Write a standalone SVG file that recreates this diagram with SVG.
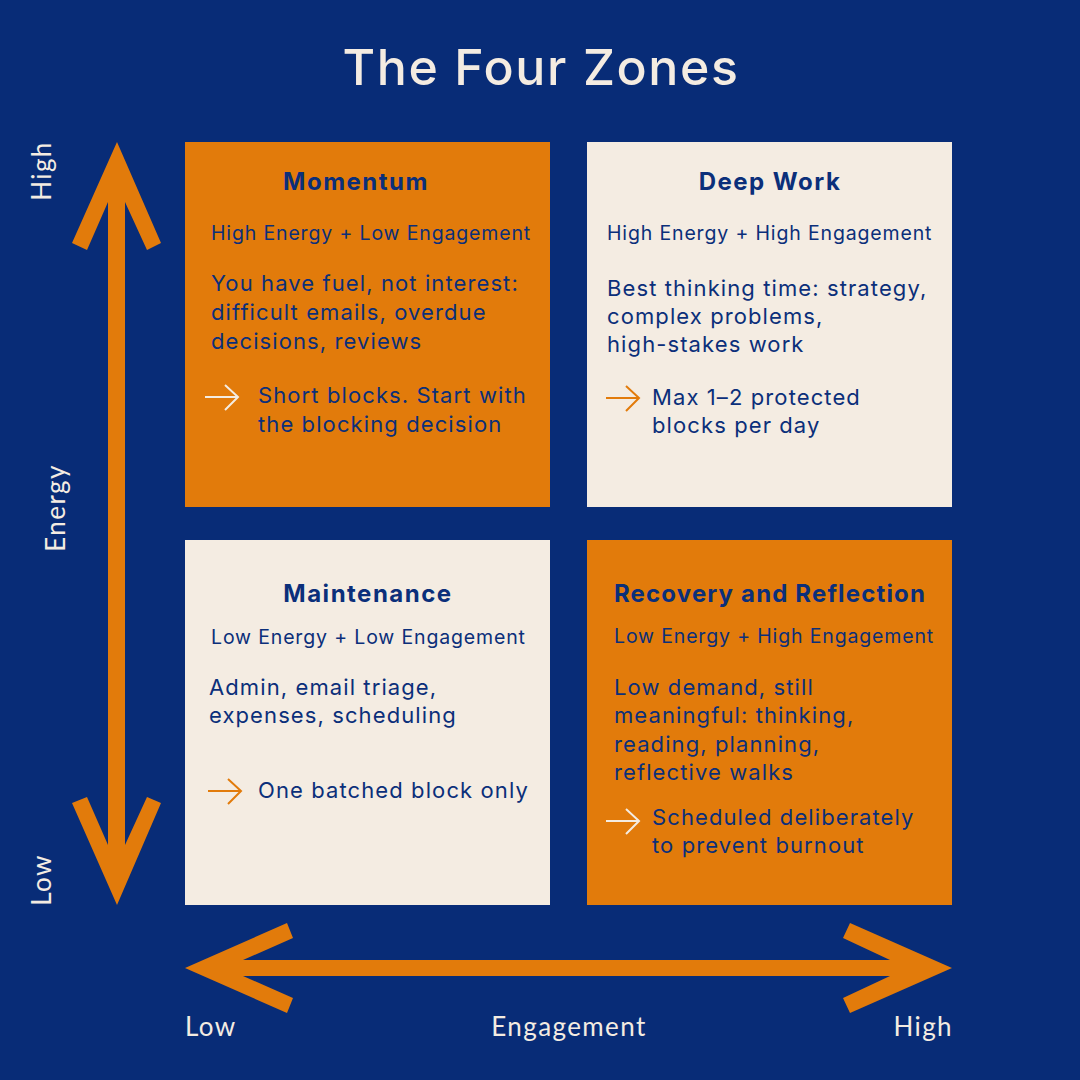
<svg xmlns="http://www.w3.org/2000/svg" width="1080" height="1080" viewBox="0 0 1080 1080">
<style>
.bg{fill:#082C77}
.orange{fill:#E27B0B}
.cream{fill:#F4ECE2}
.title{font-family:Inter,"Liberation Sans",sans-serif;font-size:50px;font-weight:500;letter-spacing:1.6px;fill:#F4ECE2}
.axis{font-family:Lato,"Liberation Sans",sans-serif;font-size:26px;letter-spacing:1.4px;fill:#F4ECE2}
.head{font-family:Inter,"Liberation Sans",sans-serif;font-size:24px;font-weight:700;letter-spacing:1.5px;fill:#0B2F7A}
.sub{font-family:Inter,"Liberation Sans",sans-serif;font-size:19.5px;letter-spacing:0.85px;fill:#0B2F7A}
.body{font-family:Inter,"Liberation Sans",sans-serif;font-size:22px;letter-spacing:1.1px;fill:#0B2F7A}
.arr-c{fill:none;stroke:#F4ECE2;stroke-width:2}
.arr-o{fill:none;stroke:#E27B0B;stroke-width:2}
</style>
<rect class="bg" x="0" y="0" width="1080" height="1080"/>
<text class="title" x="541" y="85" text-anchor="middle">The Four Zones</text>

<g id="connectors">
<polygon class="orange" points="117,142 161,243 147,250 125,202 125,845 147,797 161,803 117,905 72,803 87,797 108,845 108,202 87,250 72,243"/>
<polygon class="orange" points="185,968 287,923 293,938 243,960 890,960 843,938 850,923 952,968 850,1013 843,998 890,976 243,976 293,998 287,1013"/>
</g>

<g id="axis-labels">
<text class="axis" transform="translate(51,171) rotate(-90)" text-anchor="middle">High</text>
<text class="axis" transform="translate(65,508) rotate(-90)" text-anchor="middle">Energy</text>
<text class="axis" transform="translate(51,880) rotate(-90)" text-anchor="middle">Low</text>
<text class="axis" x="185" y="1036">Low</text>
<text class="axis" x="569" y="1036" text-anchor="middle">Engagement</text>
<text class="axis" x="953" y="1036" text-anchor="end">High</text>
</g>

<g id="momentum">
<rect class="orange" x="185" y="142" width="365" height="365"/>
<text class="head" x="356" y="190" text-anchor="middle">Momentum</text>
<text class="sub" x="211" y="240">High Energy + Low Engagement</text>
<text class="body" x="211" y="291">You have fuel, not interest:</text>
<text class="body" x="211" y="320">difficult emails, overdue</text>
<text class="body" x="211" y="349">decisions, reviews</text>
<path class="arr-c" d="M205,397 H238 M225,385 L238,397 L225,410"/>
<text class="body" x="258" y="403">Short blocks. Start with</text>
<text class="body" x="258" y="432">the blocking decision</text>
</g>

<g id="deep-work">
<rect class="cream" x="587" y="142" width="365" height="365"/>
<text class="head" x="770" y="190" text-anchor="middle">Deep Work</text>
<text class="sub" x="607" y="240">High Energy + High Engagement</text>
<text class="body" x="607" y="296">Best thinking time: strategy,</text>
<text class="body" x="607" y="324">complex problems,</text>
<text class="body" x="607" y="352">high-stakes work</text>
<path class="arr-o" d="M606,398 H639 M626,386 L639,398 L626,411"/>
<text class="body" x="652" y="405">Max 1–2 protected</text>
<text class="body" x="652" y="433">blocks per day</text>
</g>

<g id="maintenance">
<rect class="cream" x="185" y="540" width="365" height="365"/>
<text class="head" x="368" y="602" text-anchor="middle">Maintenance</text>
<text class="sub" x="211" y="644">Low Energy + Low Engagement</text>
<text class="body" x="209" y="695">Admin, email triage,</text>
<text class="body" x="209" y="723">expenses, scheduling</text>
<path class="arr-o" d="M208,791 H241 M228,779 L241,791 L228,804"/>
<text class="body" x="258" y="798">One batched block only</text>
</g>

<g id="recovery">
<rect class="orange" x="587" y="540" width="365" height="365"/>
<text class="head" x="614" y="602" style="letter-spacing:1.15px">Recovery and Reflection</text>
<text class="sub" x="614" y="643">Low Energy + High Engagement</text>
<text class="body" x="614" y="695">Low demand, still</text>
<text class="body" x="614" y="723">meaningful: thinking,</text>
<text class="body" x="614" y="752">reading, planning,</text>
<text class="body" x="614" y="780">reflective walks</text>
<path class="arr-c" d="M606,821 H639 M626,809 L639,821 L626,834"/>
<text class="body" x="652" y="825">Scheduled deliberately</text>
<text class="body" x="652" y="853">to prevent burnout</text>
</g>
</svg>
